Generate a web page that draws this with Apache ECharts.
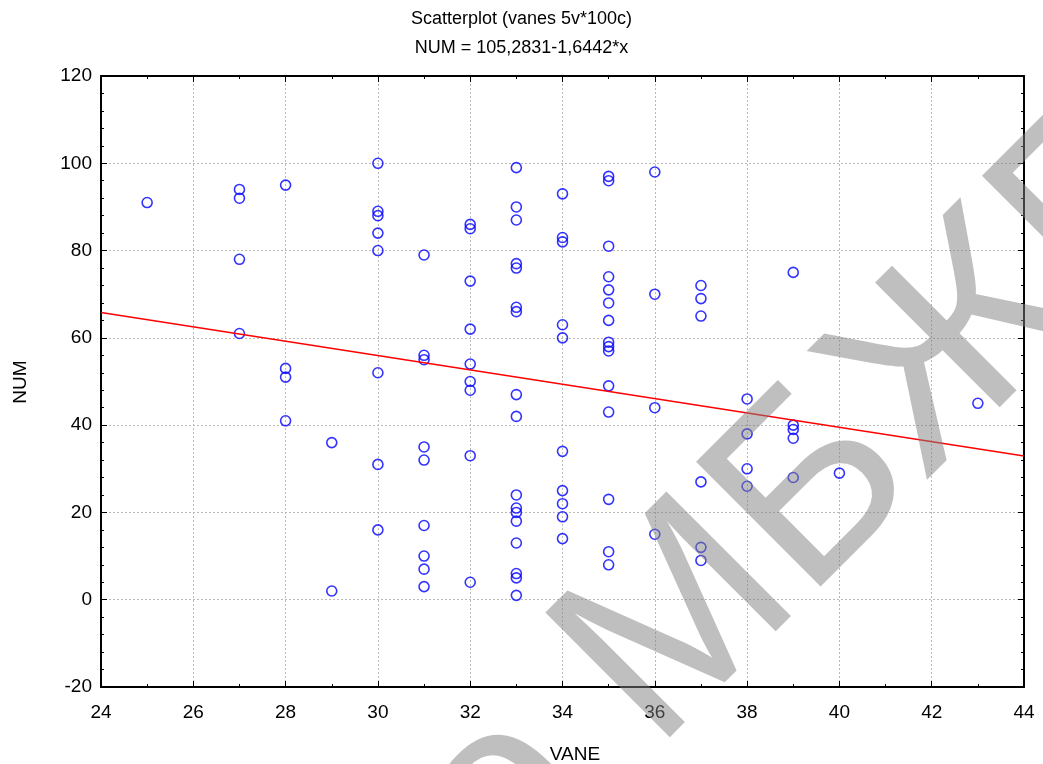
<!DOCTYPE html>
<html>
<head>
<meta charset="utf-8">
<title>Scatterplot (vanes 5v*100c)</title>
<script src="https://cdn.jsdelivr.net/npm/echarts@6/dist/echarts.min.js"></script>
<style>
  html, body { margin: 0; padding: 0; background: #ffffff; }
  #chart { width: 1043px; height: 764px; }
</style>
</head>
<body>
<div id="chart"></div>
<script>
// Case number of each observation
const num = [
  1, 2, 3, 4, 5, 6, 7, 8, 9, 10,
  11, 12, 13, 14, 15, 16, 17, 18, 19, 20,
  21, 22, 23, 24, 25, 26, 27, 28, 29, 30,
  31, 32, 33, 34, 35, 36, 37, 38, 39, 40,
  41, 42, 43, 44, 45, 46, 47, 48, 49, 50,
  51, 52, 53, 54, 55, 56, 57, 58, 59, 60,
  61, 62, 63, 64, 65, 66, 67, 68, 69, 70,
  71, 72, 73, 74, 75, 76, 77, 78, 79, 80,
  81, 82, 83, 84, 85, 86, 87, 88, 89, 90,
  91, 92, 93, 94, 95, 96, 97, 98, 99, 100
];
// VANE count of each observation, same order as num
const vane = [
  33, 29, 31, 32, 33, 33, 31, 35, 37, 31,
  35, 37, 33, 34, 36, 30, 31, 33, 34, 33,
  33, 34, 35, 33, 34, 38, 37, 39, 40, 38,
  30, 31, 32, 34, 31, 29, 39, 38, 39, 39,
  28, 33, 35, 36, 43, 38, 33, 32, 35, 32,
  28, 30, 28, 32, 31, 31, 35, 35, 35, 34,
  27, 32, 34, 35, 37, 33, 33, 35, 37, 36,
  35, 37, 32, 35, 39, 33, 33, 27, 31, 30,
  35, 34, 34, 30, 32, 32, 33, 30, 30, 33,
  25, 27, 34, 27, 28, 35, 35, 36, 33, 30
];
// Least-squares line NUM = fitIntercept + fitSlope * VANE
const fitIntercept = 105.2831;
const fitSlope = -1.6442;
const fitRange = [24, 44];

const titleText = 'Scatterplot (vanes 5v*100c)';
const subtitleText = 'NUM = 105,2831-1,6442*x';
const xName = 'VANE';
const yName = 'NUM';
// Diagonal overlay lettering: the part before and after the anchor point
const overlayLead = 'о ';
const overlayMain = 'МБЖГ';

const FONT = '"Liberation Sans", Arial, sans-serif';

const points = vane.map((v, i) => [v, num[i]]);
const fitLine = fitRange.map(x => [x, fitIntercept + fitSlope * x]);

const chart = echarts.init(document.getElementById('chart'), null, { renderer: 'canvas' });

const frameLine = { show: true, onZero: false, lineStyle: { color: '#000', width: 2 } };
const gridLine = { show: true, lineStyle: { color: '#b9b9b9', width: 1, type: [2, 2] } };
const majorTick = { show: true, inside: true, length: 6, lineStyle: { color: '#000', width: 1 } };

const overlayStyle = { font: '256px ' + FONT, fill: 'rgba(128,128,128,0.5)', verticalAlign: 'middle' };

chart.setOption({
  animation: false,
  backgroundColor: '#ffffff',
  textStyle: { fontFamily: FONT },
  title: [
    { text: titleText, left: 'center', top: 5,
      textStyle: { fontFamily: FONT, fontSize: 18, fontWeight: 'normal', color: '#000' } },
    { text: subtitleText, left: 'center', top: 34,
      textStyle: { fontFamily: FONT, fontSize: 18, fontWeight: 'normal', color: '#000' } }
  ],
  grid: { left: 101, right: 19, top: 76, bottom: 77, containLabel: false },
  xAxis: [
    {
      type: 'value', position: 'bottom', min: 24, max: 44, interval: 2,
      axisLine: frameLine,
      axisTick: majorTick,
      minorTick: { show: true, splitNumber: 2, length: 3, lineStyle: { color: '#000', width: 1 } },
      splitLine: gridLine,
      axisLabel: { color: '#000', fontSize: 19, fontFamily: FONT, margin: 16 }
    },
    {
      type: 'value', position: 'top', min: 24, max: 44, interval: 2,
      axisLine: frameLine,
      axisTick: majorTick,
      minorTick: { show: true, splitNumber: 2, length: 3, lineStyle: { color: '#000', width: 1 } },
      splitLine: { show: false },
      axisLabel: { show: false }
    }
  ],
  yAxis: [
    {
      type: 'value', position: 'left', min: -20, max: 120, interval: 20,
      axisLine: frameLine,
      axisTick: majorTick,
      minorTick: { show: true, splitNumber: 5, length: 3, lineStyle: { color: '#000', width: 1 } },
      splitLine: gridLine,
      axisLabel: { color: '#000', fontSize: 19, fontFamily: FONT, margin: 9 }
    },
    {
      type: 'value', position: 'right', min: -20, max: 120, interval: 20,
      axisLine: frameLine,
      axisTick: majorTick,
      minorTick: { show: true, splitNumber: 5, length: 3, lineStyle: { color: '#000', width: 1 } },
      splitLine: { show: false },
      axisLabel: { show: false }
    }
  ],
  series: [
    {
      type: 'scatter', xAxisIndex: 0, yAxisIndex: 0,
      data: points,
      symbol: 'circle', symbolSize: 10,
      itemStyle: { color: 'rgba(0,0,0,0)', borderColor: '#0000ff', borderWidth: 1.6 },
      emphasis: { disabled: true },
      z: 3
    },
    {
      type: 'line', xAxisIndex: 0, yAxisIndex: 0,
      data: fitLine,
      showSymbol: false, symbol: 'none',
      lineStyle: { color: '#ff0000', width: 1.5 },
      emphasis: { disabled: true },
      z: 4
    }
  ],
  graphic: [
    {
      type: 'text', x: 575, y: 755, silent: true, z: 5,
      style: { text: xName, font: '19px ' + FONT, fill: '#000', align: 'center', verticalAlign: 'middle' }
    },
    {
      type: 'text', x: 21, y: 382, rotation: Math.PI / 2, silent: true, z: 5,
      style: { text: yName, font: '19px ' + FONT, fill: '#000', align: 'center', verticalAlign: 'middle' }
    },
    {
      type: 'text', x: 605, y: 702, rotation: Math.PI / 4, silent: true, z: 100,
      style: Object.assign({ text: overlayLead, align: 'right' }, overlayStyle)
    },
    {
      type: 'text', x: 605, y: 702, rotation: Math.PI / 4, silent: true, z: 100,
      style: Object.assign({ text: overlayMain, align: 'left' }, overlayStyle)
    }
  ]
});
</script>
</body>
</html>
